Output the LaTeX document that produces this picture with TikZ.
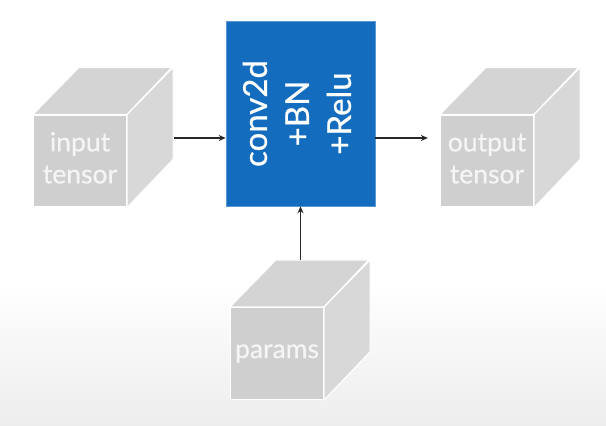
\documentclass[tikz,border=0pt]{standalone}
\usepackage{fontspec}
\setmainfont{Lato}
\newfontfamily\medfont[FakeBold=0.6]{Lato}
\usepackage{graphicx}
\usetikzlibrary{arrows.meta,calc}
\definecolor{blueb}{RGB}{20,108,190}
\definecolor{cfront}{RGB}{207,207,207}
\definecolor{ctop}{RGB}{212,212,212}
\definecolor{cside}{RGB}{216,216,216}
\definecolor{arrc}{RGB}{40,40,40}
\newcommand\cubetext[1]{\raisebox{5pt}{\begin{tabular}{@{}c@{}}#1\end{tabular}}}
\begin{document}
\begin{tikzpicture}[x=1pt,y=-1pt,
  front/.style={fill=cfront, draw=white, line width=1.2pt, minimum width=93pt, minimum height=92pt,
    inner sep=0pt, align=center, text=white!96!black, font=\medfont\fontsize{26.5}{32}\selectfont},
  topface/.style={fill=ctop, draw=white, line width=1.2pt, line join=round},
  sideface/.style={fill=cside, draw=white, line width=1.2pt, line join=round},
  bluebox/.style={fill=blueb, draw=blueb!70!white, line width=0.6pt, minimum width=149pt, minimum height=185pt,
    inner sep=0pt, text=white},
  arr/.style={draw=arrc, line width=1.1pt, -{Stealth[length=7pt,width=6pt]}}]
\useasboundingbox (0,0) rectangle (606,426);
\fill[white] (0,0) rectangle (606,426);
\shade[top color=white, bottom color=black!7] (0,280) rectangle (606,426);

% blue block
\node[bluebox] (blue) at (300.5,113.5) {\rotatebox{90}{\medfont\fontsize{33}{42}\selectfont\begin{tabular}{@{}c@{}}conv2d\\+BN\\+Relu\end{tabular}}};

% input cube
\node[front] (inF) at (80,161) {\cubetext{input\\tensor}};
\draw[topface] (inF.north west) -- ++(46,-47) -- ++(93,0) -- (inF.north east) -- cycle;
\draw[sideface] (inF.north east) -- ++(46,-47) -- ++(0,92) -- (inF.south east) -- cycle;
\coordinate (inOut) at ($(inF.east)+(47,-23)$);

% output cube
\node[front] (outF) at (487,161) {\cubetext{output\\tensor}};
\draw[topface] (outF.north west) -- ++(46,-47) -- ++(93,0) -- (outF.north east) -- cycle;
\draw[sideface] (outF.north east) -- ++(46,-47) -- ++(0,92) -- (outF.south east) -- cycle;
\coordinate (outIn) at ($(outF.west)+(-12,-23)$);

% params cube
\node[front] (parF) at (277,353.5) {params};
\draw[topface] (parF.north west) -- ++(46,-47) -- ++(93,0) -- (parF.north east) -- cycle;
\draw[sideface] (parF.north east) -- ++(46,-47) -- ++(0,92) -- (parF.south east) -- cycle;
\coordinate (parTop) at ($(parF.north)+(23.5,-47)$);

% connectors
\draw[arr] (inOut) -- (inOut -| blue.west);
\draw[arr] (outIn -| blue.east) -- (outIn);
\draw[arr] (parTop) -- (parTop |- blue.south);
\end{tikzpicture}
\end{document}
